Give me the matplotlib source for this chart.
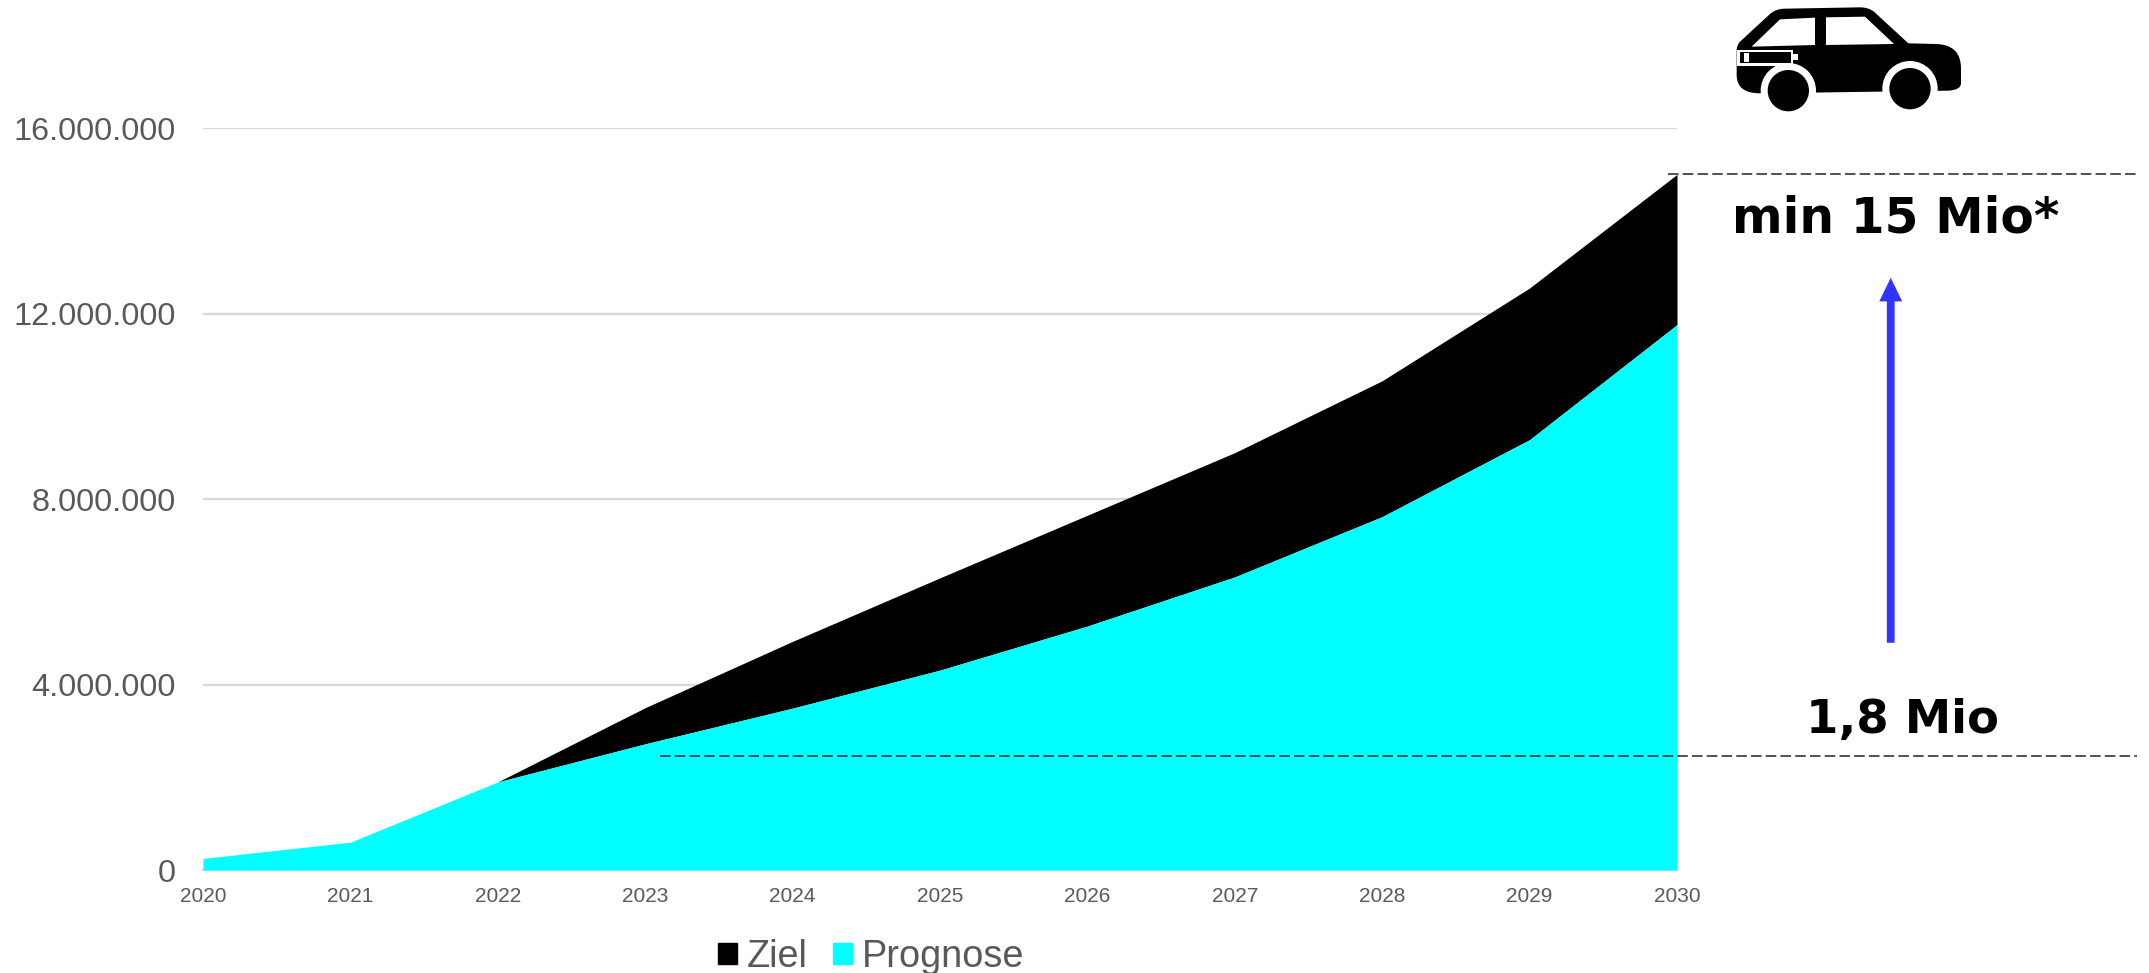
import numpy as np
import matplotlib
matplotlib.use('Agg')
from matplotlib import pyplot as plt
from matplotlib.patches import Circle, Polygon, PathPatch, Rectangle, Patch
from matplotlib.path import Path

years = [2020, 2021, 2022, 2023, 2024, 2025, 2026, 2027, 2028, 2029, 2030]
ziel = [250000, 600000, 1900000, 3500000, 4930000, 6300000, 7650000, 9000000, 10550000, 12550000, 15000000]
prognose = [250000, 600000, 1900000, 2720000, 3490000, 4310000, 5260000, 6320000, 7620000, 9280000, 11760000]
y_ticks = [0, 4000000, 8000000, 12000000, 16000000]
y_labels = ['0', '4.000.000', '8.000.000', '12.000.000', '16.000.000']

W, H = 2149, 973
plt.rcParams['font.family'] = ['Liberation Sans', 'DejaVu Sans']
grey = '#595959'

fig = plt.figure(figsize=(W / 100, H / 100), dpi=100)
ax = fig.add_axes([203 / W, 1 - 870 / H, (1677 - 203) / W, (870 - 128) / H])
ax.set_xlim(2020, 2030)
ax.set_ylim(0, 16000000)

ax.fill_between(years, prognose, ziel, color='#000000', lw=0, zorder=2, label='Ziel')
ax.fill_between(years, 0, prognose, color='#00ffff', lw=0, zorder=3, label='Prognose')

ax.set_yticks(y_ticks)
ax.set_yticklabels(y_labels, fontsize=23.3, color=grey)
ax.set_xticks(years)
ax.set_xticklabels(years, fontsize=15, color=grey)
ax.tick_params(axis='both', length=0)
ax.tick_params(axis='x', pad=12)
ax.tick_params(axis='y', pad=19.5)
ax.grid(axis='y', color='#d9d9d9', lw=1.7, zorder=1)
ax.set_axisbelow(True)
for s in ['top', 'right', 'left']:
    ax.spines[s].set_visible(False)
ax.spines['bottom'].set_color('#d9d9d9')
ax.spines['bottom'].set_linewidth(1.7)

# dashed markers running out of the plot area
ax.plot([2029.94, 2033.12], [15000000, 15000000], color='#222222', lw=1.1, dashes=(6.9, 2.75), clip_on=False, zorder=4)
ax.plot([2023.1, 2033.12], [2450000, 2450000], color='#222222', lw=1.1, dashes=(6.9, 2.75), clip_on=False, zorder=4)

ax.text(2031.485, 14040000, 'min 15 Mio*', family='DejaVu Sans', fontweight='bold', fontsize=35,
        ha='center', va='center', color='black', clip_on=False)
ax.text(2031.53, 3220000, '1,8 Mio', family='DejaVu Sans', fontweight='bold', fontsize=33.6,
        ha='center', va='center', color='black', clip_on=False)
ax.annotate('', xy=(2031.45, 12770000), xytext=(2031.45, 4900000), annotation_clip=False,
            arrowprops=dict(width=5.6, headwidth=16.5, headlength=17, fc='#3333ff', ec='#3333ff', lw=0,
                            shrink=0))

handles = [Patch(color='#000000', label='Ziel'), Patch(color='#00ffff', label='Prognose')]
fig.legend(handles=handles, loc='center', bbox_to_anchor=(871 / W, 1 - 957 / H), ncol=2, frameon=False,
           fontsize=27.3, labelcolor=grey, handlelength=0.5, handleheight=0.5, handletextpad=0.25,
           columnspacing=0.68, borderpad=0, borderaxespad=0)

# car icon, drawn in zoomed crop pixels of the top right corner
car = fig.add_axes([0, 0, 1, 1], zorder=5)
car.set_xlim(0, W)
car.set_ylim(H, 0)
car.axis('off')
car.patch.set_alpha(0)


def cx(v):
    return 1700 + v / 3


def cy(v):
    return v / 3


verts = [(110, 150), (110, 135), (120, 125), (210, 42), (228, 26), (255, 26), (480, 22), (505, 22), (522, 35), (625, 130),
         (710, 132), (783, 135), (783, 205), (783, 250), (783, 270), (745, 272), (180, 280),
         (110, 280), (110, 225), (110, 150)]
codes = [Path.MOVETO, Path.CURVE3, Path.CURVE3, Path.LINETO, Path.CURVE3, Path.CURVE3, Path.LINETO, Path.CURVE3, Path.CURVE3, Path.LINETO,
         Path.LINETO, Path.CURVE3, Path.CURVE3, Path.LINETO, Path.CURVE3, Path.CURVE3, Path.LINETO,
         Path.CURVE3, Path.CURVE3, Path.LINETO]
car.add_patch(PathPatch(Path([(cx(a), cy(b)) for a, b in verts], codes), fc='black', lw=0))
for wx, wy in [(265, 272), (630, 266)]:
    car.add_patch(Circle((cx(wx), cy(wy)), 83 / 3, fc='white', lw=0))
    car.add_patch(Circle((cx(wx), cy(wy)), 62 / 3, fc='black', lw=0))
for win in [[(155, 140), (240, 58), (345, 53), (345, 135)], [(378, 52), (495, 50), (582, 132), (378, 135)]]:
    car.add_patch(Polygon([(cx(a), cy(b)) for a, b in win], fc='white', lw=0))
# battery
car.add_patch(Rectangle((cx(110), cy(150)), 168 / 3, 47 / 3, fc='white', lw=0))
car.add_patch(Rectangle((cx(275), cy(163)), 18 / 3, 18 / 3, fc='white', lw=0))
car.add_patch(Rectangle((cx(120), cy(156)), 152 / 3, 34 / 3, fc='black', lw=0))
car.add_patch(Rectangle((cx(132), cy(160)), 16 / 3, 27 / 3, fc='white', lw=0))

fig.savefig('out.png', dpi=100)
